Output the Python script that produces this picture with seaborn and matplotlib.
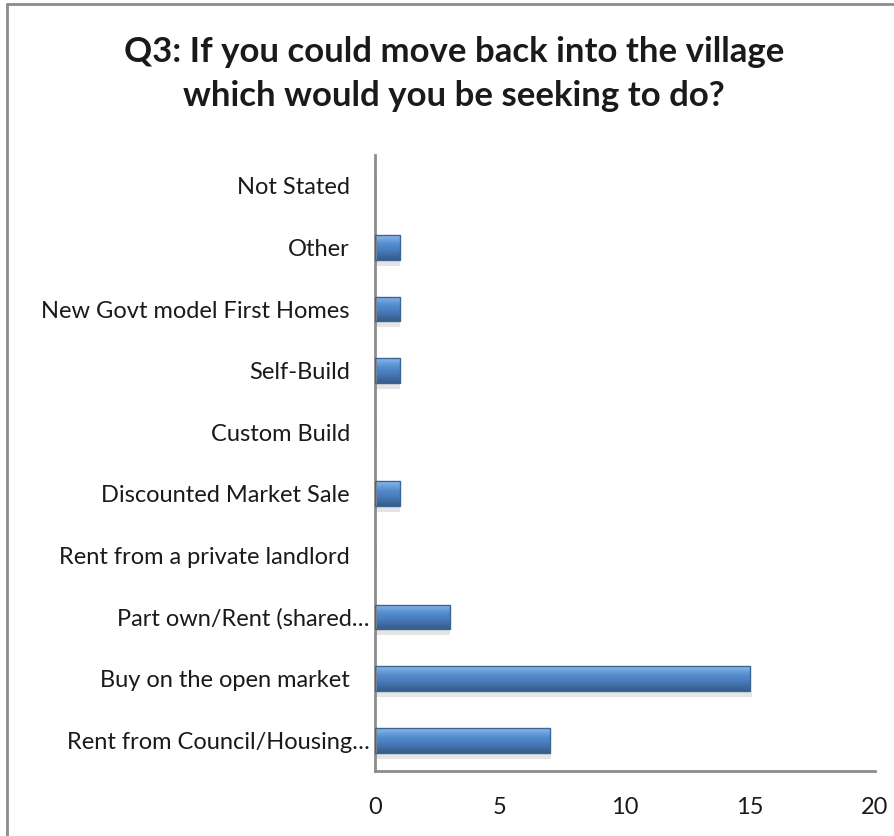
import numpy as np
import pandas as pd
import matplotlib
matplotlib.use("Agg")
import matplotlib.pyplot as plt
from matplotlib.colors import LinearSegmentedColormap
from matplotlib.lines import Line2D
from matplotlib.transforms import ScaledTranslation
import seaborn as sns

categories = [
    "Not Stated",
    "Other",
    "New Govt model First Homes",
    "Self-Build",
    "Custom Build",
    "Discounted Market Sale",
    "Rent from a private landlord",
    "Part own/Rent (shared\u2026",
    "Buy on the open market",
    "Rent from Council/Housing\u2026",
]
responses = [0, 1, 1, 1, 0, 1, 0, 3, 15, 7]
x_ticks = [0, 5, 10, 15, 20]
title = "Q3: If you could move back into the village\nwhich would you be seeking to do?"

df = pd.DataFrame({"option": categories, "count": responses})

sns.set_theme(style="white")
plt.rcParams["font.family"] = ["Lato", "DejaVu Sans"]

fig = plt.figure(figsize=(8.95, 8.36), dpi=100)
ax = fig.add_axes([375 / 895, 1 - 771 / 836, 500 / 895, 616 / 836])

sns.barplot(data=df, x="count", y="option", order=categories, orient="h",
            color="#4F81BD", width=0.4, edgecolor="#3B6593", linewidth=1.0,
            saturation=1, ax=ax)

# bevelled fill for each bar: light top edge fading to a darker base
bevel = LinearSegmentedColormap.from_list(
    "bevel", ["#8DBAEE", "#6B9EDB", "#5189CB", "#4A7DBC", "#3F6CA3", "#365C8A"])
grad = np.linspace(0, 1, 64).reshape(-1, 1)
for patch in ax.patches:
    w = patch.get_width()
    if w <= 0:
        continue
    x0, y0 = patch.get_x(), patch.get_y()
    h = patch.get_height()
    # soft shadow under the bar
    ax.fill_between([x0, x0 + w * 1.005], y0 + h, y0 + h * 1.25,
                    color="#9a9a9a", alpha=0.25, lw=0, zorder=1.5)
    im = ax.imshow(grad, cmap=bevel, aspect="auto",
                   extent=[x0, x0 + w, y0 + h, y0], origin="upper",
                   zorder=2.5, interpolation="bicubic")
    im.set_clip_path(patch)
    patch.set_zorder(3)
    patch.set_facecolor("none")

ax.set_xlim(0, 20)
ax.set_ylim(9.5, -0.5)
ax.set_xticks(x_ticks)
ax.set_xlabel("")
ax.set_ylabel("")
for s in ["top", "right"]:
    ax.spines[s].set_visible(False)
for s in ["left", "bottom"]:
    ax.spines[s].set_color("#8C8C8C")
    ax.spines[s].set_linewidth(2)
ax.tick_params(axis="x", direction="out", length=7, width=2, color="#8C8C8C",
               labelsize=17, labelcolor="#1a1a1a", pad=12)
ax.tick_params(axis="y", length=0, labelsize=17, labelcolor="#1a1a1a", pad=18)

# truncated labels sit a little closer to the axis
for lab in ax.get_yticklabels():
    if lab.get_text().endswith("\u2026"):
        lab.set_transform(lab.get_transform()
                          + ScaledTranslation(14 / 72, 0, fig.dpi_scale_trans))

fig.text(0.507, 0.9115, title, ha="center", va="center", fontsize=25,
         fontweight="bold", color="#1a1a1a", linespacing=1.45)

# chart area frame (top and left edges)
fig.add_artist(Line2D([7 / 895, 7 / 895], [0, 1 - 4 / 836],
                      transform=fig.transFigure, color="#8C8C8C", lw=2))
fig.add_artist(Line2D([7 / 895, 1], [1 - 4 / 836, 1 - 4 / 836],
                      transform=fig.transFigure, color="#8C8C8C", lw=2))

fig.savefig("out.png", dpi=100)
